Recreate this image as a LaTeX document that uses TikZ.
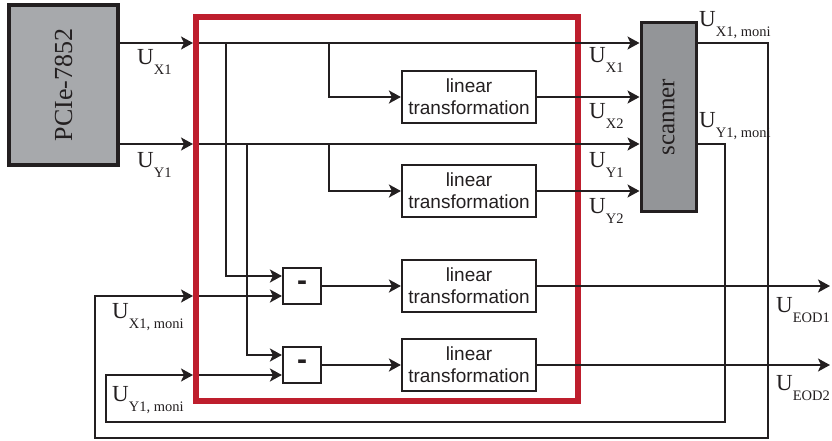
\documentclass[tikz,border=0pt]{standalone}
\usepackage{fontspec}
\setmainfont{Liberation Serif}
\newfontfamily\sansbox{Liberation Sans}
\usetikzlibrary{arrows.meta, positioning}
\definecolor{ink}{RGB}{35,31,32}
\definecolor{alarm}{RGB}{190,30,45}
\definecolor{card}{RGB}{167,169,172}
\definecolor{scangray}{RGB}{147,149,152}
\newcommand{\usig}[1]{U\raisebox{-10pt}{\fontsize{14.5}{15}\selectfont #1}}

\begin{document}
\begin{tikzpicture}[
  x=1pt, y=-1pt,
  wire/.style={line width=2pt, draw=ink},
  arr/.style={wire, -{Stealth[length=12pt, width=13pt, inset=3pt]}},
  dev/.style={draw=ink, line width=3.3pt, inner sep=0, text=ink},
  block/.style={draw=ink, line width=2.2pt, fill=white, minimum width=134pt, minimum height=52pt,
    inner sep=0, align=center, text=ink, font=\sansbox\fontsize{19}{22}\selectfont},
  diff/.style={draw=ink, line width=2.2pt, fill=white, minimum width=38pt, minimum height=36pt,
    inner sep=0, text=ink, font=\sansbox\bfseries\fontsize{30}{30}\selectfont},
  lbl/.style={anchor=base west, inner sep=0, text=ink, font=\fontsize{23}{23}\selectfont},
  frame/.style={draw=alarm, line width=6pt},
]
\useasboundingbox (0,0) rectangle (832,441);

% Devices
\node[dev, fill=card, minimum width=109pt, minimum height=160pt] (pcie) at (63.5,85)
  {\rotatebox{90}{\fontsize{26}{26}\selectfont PCIe-7852}};
\node[dev, fill=scangray, line width=3pt, minimum width=55pt, minimum height=188pt] (scan) at (668.5,117)
  {\rotatebox{90}{\fontsize{25}{25}\selectfont scanner}};

% Processing frame
\draw[frame] (196,17) rectangle (578,401);

% Blocks
\node[block] (lt1) at (469,97) {linear\\transformation};
\node[block] (lt2) at (469,191) {linear\\transformation};
\node[block] (lt3) at (469,286) {linear\\transformation};
\node[block] (lt4) at (469,365) {linear\\transformation};
\node[diff] (sub1) at (302,286) {-};
\node[diff] (sub2) at (302,365) {-};

% Points on the frame and taps
\coordinate (x1in) at (193,43);
\coordinate (y1in) at (193,144);
\coordinate (mx1) at (193,296);
\coordinate (my1) at (193,375);
\coordinate (tapx) at (329,43);
\coordinate (tapy) at (329,144);
\coordinate (tapxd) at (226,43);
\coordinate (tapyd) at (247,144);
\coordinate (xm1) at (768,438);
\coordinate (xm2) at (95,296);
\coordinate (ym1) at (725,422);
\coordinate (ym2) at (106,375);
\coordinate (eod1) at (830,286);
\coordinate (eod2) at (830,365);

% PCIe -> scanner
\draw[arr] (pcie.east |- x1in) -- (x1in);
\draw[arr] (x1in) -- (scan.west |- x1in);
\draw[arr] (pcie.east |- y1in) -- (y1in);
\draw[arr] (y1in) -- (scan.west |- y1in);

% Linear transformations -> scanner
\draw[arr] (tapx) |- (lt1.west);
\draw[arr] (tapy) |- (lt2.west);
\draw[arr] (lt1) -- (scan.west |- lt1);
\draw[arr] (lt2) -- (scan.west |- lt2);

% Differences
\draw[arr] (tapxd) |- ([yshift=10pt]sub1.west);
\draw[arr] (tapyd) |- ([yshift=10pt]sub2.west);
\draw[arr] (mx1) -- ([yshift=-10pt]sub1.west);
\draw[arr] (my1) -- ([yshift=-10pt]sub2.west);
\draw[arr] (sub1) -- (lt3);
\draw[arr] (sub2) -- (lt4);
\draw[arr] (lt3) -- (eod1);
\draw[arr] (lt4) -- (eod2);

% Monitor feedback
\draw[arr] (scan.east |- x1in) -| (xm1) -| (xm2) -- (mx1);
\draw[arr] (scan.east |- y1in) -| (ym1) -| (ym2) -- (my1);

\draw[frame] (196,17) -- (196,401);

% Labels
\node[lbl] (lux1) at (137,65) {\usig{X1}};
\node[lbl] (luy1) at (137,167) {\usig{Y1}};
\node[lbl] (rux1) at (589,63) {\usig{X1}};
\node[lbl] (rux2) at (589,118) {\usig{X2}};
\node[lbl] (ruy1) at (589,167) {\usig{Y1}};
\node[lbl] (ruy2) at (589,213) {\usig{Y2}};
\node[lbl] (mox) at (699,27) {\usig{X1, moni}};
\node[lbl] (moy) at (699,128) {\usig{Y1, moni}};
\node[lbl] (mix) at (112,318) {\usig{X1, moni}};
\node[lbl] (miy) at (112,401) {\usig{Y1, moni}};
\node[lbl] (le1) at (776,312) {\usig{EOD1}};
\node[lbl] (le2) at (776,390) {\usig{EOD2}};

\end{tikzpicture}
\end{document}
